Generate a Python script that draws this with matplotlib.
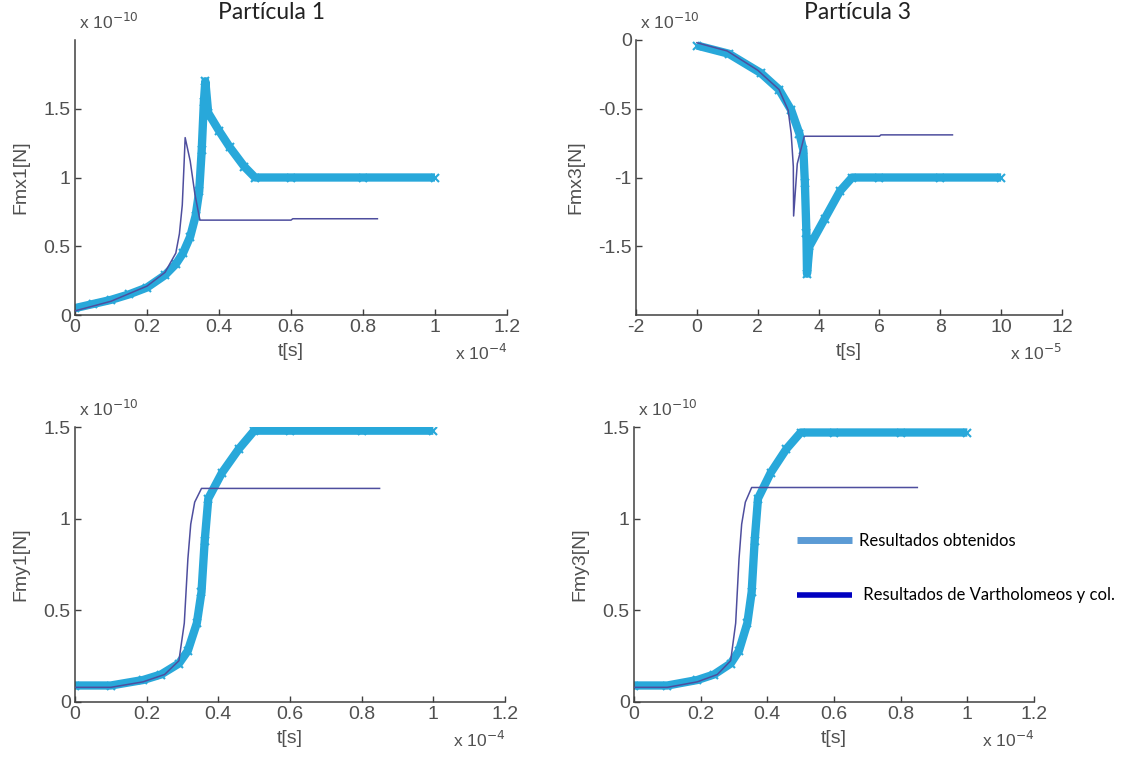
import matplotlib
matplotlib.use('Agg')
import matplotlib.pyplot as plt
from matplotlib.lines import Line2D

plt.rcParams['axes.unicode_minus'] = False

# ── Datos (t en unidades de 1e-4 / 1e-5 s, fuerzas en 1e-10 N) ───────────────
# Partícula 1 - Fmx1
t_fmx1_obt = [0, 0.05, 0.1, 0.15, 0.2, 0.25, 0.28, 0.3, 0.32, 0.335, 0.345,
              0.352, 0.358, 0.362, 0.37, 0.4, 0.43, 0.47, 0.5, 0.6, 0.8, 1.0]
fmx1_obt = [0.05, 0.08, 0.11, 0.15, 0.2, 0.29, 0.37, 0.45, 0.57, 0.72, 0.9,
            1.2, 1.55, 1.70, 1.47, 1.34, 1.22, 1.08, 1.0, 1.0, 1.0, 1.0]
t_fmx1_var = [0, 0.1, 0.2, 0.25, 0.28, 0.29, 0.298, 0.303, 0.306, 0.32,
              0.333, 0.347, 0.6, 0.605, 0.84]
fmx1_var = [0.03, 0.1, 0.21, 0.31, 0.45, 0.59, 0.8, 1.1, 1.29, 1.12,
            0.88, 0.69, 0.69, 0.70, 0.70]

# Partícula 3 - Fmx3
t_fmx3_obt = [0, 1.05, 2.1, 2.7, 3.1, 3.37, 3.5, 3.55, 3.6, 3.62, 3.7,
              4.2, 4.7, 5.1, 6, 8, 10]
fmx3_obt = [-0.04, -0.1, -0.24, -0.36, -0.51, -0.68, -0.8, -1.04, -1.4,
            -1.70, -1.50, -1.3, -1.1, -1.0, -1.0, -1.0, -1.0]
t_fmx3_var = [0, 1.0, 2.0, 2.7, 3.0, 3.1, 3.17, 3.18, 3.3, 3.53, 6.0, 6.05, 8.4]
fmx3_var = [-0.02, -0.08, -0.22, -0.36, -0.51, -0.68, -0.92, -1.28,
            -0.9, -0.70, -0.70, -0.69, -0.69]

# Partícula 1 - Fmy1
t_fmy1_obt = [0, 0.1, 0.19, 0.24, 0.29, 0.315, 0.34, 0.353, 0.362, 0.372,
              0.41, 0.457, 0.5, 0.6, 0.8, 1.0]
fmy1_obt = [0.09, 0.09, 0.12, 0.15, 0.21, 0.28, 0.43, 0.6, 0.88, 1.11,
            1.25, 1.38, 1.48, 1.48, 1.48, 1.48]
t_fmy1_var = [0, 0.1, 0.19, 0.25, 0.29, 0.305, 0.315, 0.323, 0.334, 0.353, 0.6, 0.85]
fmy1_var = [0.08, 0.08, 0.11, 0.15, 0.225, 0.43, 0.78, 0.97, 1.09, 1.165, 1.165, 1.165]

# Partícula 3 - Fmy3
t_fmy3_obt = [0, 0.1, 0.19, 0.24, 0.29, 0.315, 0.34, 0.353, 0.362, 0.372,
              0.41, 0.457, 0.5, 0.6, 0.8, 1.0]
fmy3_obt = [0.09, 0.09, 0.12, 0.15, 0.21, 0.28, 0.43, 0.6, 0.88, 1.11,
            1.25, 1.38, 1.47, 1.47, 1.47, 1.47]
t_fmy3_var = [0, 0.1, 0.19, 0.25, 0.29, 0.305, 0.315, 0.323, 0.334, 0.353, 0.6, 0.85]
fmy3_var = [0.08, 0.08, 0.11, 0.15, 0.225, 0.43, 0.78, 0.97, 1.09, 1.17, 1.17, 1.17]

C_OBT = '#28a8da'
C_VAR = '#4e4e9e'
AX_COL = '#404040'
TXT_COL = '#505050'
TICK_FONT = ['Liberation Sans Narrow', 'Liberation Sans', 'DejaVu Sans']
TEXT_FONT = ['Lato', 'DejaVu Sans']
FS = 14

W, H = 1133, 767
fig = plt.figure(figsize=(W / 100, H / 100), dpi=100)


def px_axes(left, right, top, bottom):
    return fig.add_axes([left / W, (H - bottom) / H, (right - left) / W, (bottom - top) / H])


def estilo(ax, ylabel, xexp, yexp):
    for s in ['top', 'right']:
        ax.spines[s].set_visible(False)
    for s in ['left', 'bottom']:
        ax.spines[s].set_color(AX_COL)
        ax.spines[s].set_linewidth(1.1)
    ax.tick_params(direction='in', length=4, width=1, color=AX_COL,
                   labelcolor=TXT_COL, labelsize=FS, pad=3)
    for lab in ax.get_xticklabels() + ax.get_yticklabels():
        lab.set_family(TICK_FONT)
    ax.set_xlabel('t[s]', fontsize=FS, color=TXT_COL, family=TICK_FONT, labelpad=5)
    ax.set_ylabel(ylabel, fontsize=FS, color=TXT_COL, family=TICK_FONT, labelpad=10)
    ax.text(0.01, 1.03, 'x 10$^{%d}$' % yexp, transform=ax.transAxes, ha='left',
            va='bottom', fontsize=12.5, color=TXT_COL, family=TICK_FONT)
    ax.text(1.0, -0.10, 'x 10$^{%d}$' % xexp, transform=ax.transAxes, ha='right',
            va='top', fontsize=12.5, color=TXT_COL, family=TICK_FONT)


def curvas(ax, t_obt, y_obt, t_var, y_var):
    ax.plot(t_obt, y_obt, color=C_OBT, lw=6, solid_capstyle='butt', zorder=2)
    ax.plot(t_obt, y_obt, 'x', color=C_OBT, ms=6, mew=1.5, zorder=2)
    ax.plot(t_var, y_var, color=C_VAR, lw=1.1, zorder=3)


# ── Fmx1 ──
ax1 = px_axes(75, 507, 40, 315)
curvas(ax1, t_fmx1_obt, fmx1_obt, t_fmx1_var, fmx1_var)
ax1.set_xlim(0, 1.2)
ax1.set_ylim(0, 2)
ax1.set_xticks([0, 0.2, 0.4, 0.6, 0.8, 1, 1.2])
ax1.set_xticklabels(['0', '0.2', '0.4', '0.6', '0.8', '1', '1.2'])
ax1.set_yticks([0, 0.5, 1, 1.5])
ax1.set_yticklabels(['0', '0.5', '1', '1.5'])
estilo(ax1, 'Fmx1[N]', -4, -10)
ax1.text(0.455, 1.10, 'Partícula 1', transform=ax1.transAxes, ha='center',
         va='center', fontsize=16.5, family=TEXT_FONT, color='#222222')

# ── Fmx3 ──
ax2 = px_axes(636, 1062, 40, 315)
curvas(ax2, t_fmx3_obt, fmx3_obt, t_fmx3_var, fmx3_var)
ax2.set_xlim(-2, 12)
ax2.set_ylim(-2, 0)
ax2.set_xticks(range(-2, 13, 2))
ax2.set_yticks([-1.5, -1, -0.5, 0])
ax2.set_yticklabels(['-1.5', '-1', '-0.5', '0'])
estilo(ax2, 'Fmx3[N]', -5, -10)
ax2.text(0.52, 1.10, 'Partícula 3', transform=ax2.transAxes, ha='center',
         va='center', fontsize=16.5, family=TEXT_FONT, color='#222222')

# ── Fmy1 ──
ax3 = px_axes(75, 505, 427, 702)
curvas(ax3, t_fmy1_obt, fmy1_obt, t_fmy1_var, fmy1_var)
ax3.set_xlim(0, 1.2)
ax3.set_ylim(0, 1.5)
ax3.set_xticks([0, 0.2, 0.4, 0.6, 0.8, 1, 1.2])
ax3.set_xticklabels(['0', '0.2', '0.4', '0.6', '0.8', '1', '1.2'])
ax3.set_yticks([0, 0.5, 1, 1.5])
ax3.set_yticklabels(['0', '0.5', '1', '1.5'])
estilo(ax3, 'Fmy1[N]', -4, -10)

# ── Fmy3 ──
ax4 = px_axes(634, 1034, 427, 702)
curvas(ax4, t_fmy3_obt, fmy3_obt, t_fmy3_var, fmy3_var)
ax4.set_xlim(0, 1.2)
ax4.set_ylim(0, 1.5)
ax4.set_xticks([0, 0.2, 0.4, 0.6, 0.8, 1, 1.2])
ax4.set_xticklabels(['0', '0.2', '0.4', '0.6', '0.8', '1', '1.2'])
ax4.set_yticks([0, 0.5, 1, 1.5])
ax4.set_yticklabels(['0', '0.5', '1', '1.5'])
estilo(ax4, 'Fmy3[N]', -4, -10)

# Leyenda
handles = [Line2D([], [], color='#5b9bd5', lw=5, solid_capstyle='butt'),
           Line2D([], [], color='#0000c0', lw=4, solid_capstyle='butt')]
labels = ['Resultados obtenidos', ' Resultados de Vartholomeos y col.']
fig.legend(handles, labels, loc='upper left', bbox_to_anchor=(782 / W, 1 - 518 / H),
           frameon=False, handlelength=3.3, handletextpad=0.4, labelspacing=2.3,
           prop={'family': TEXT_FONT, 'size': 12})

fig.savefig('out.png', dpi=100)
